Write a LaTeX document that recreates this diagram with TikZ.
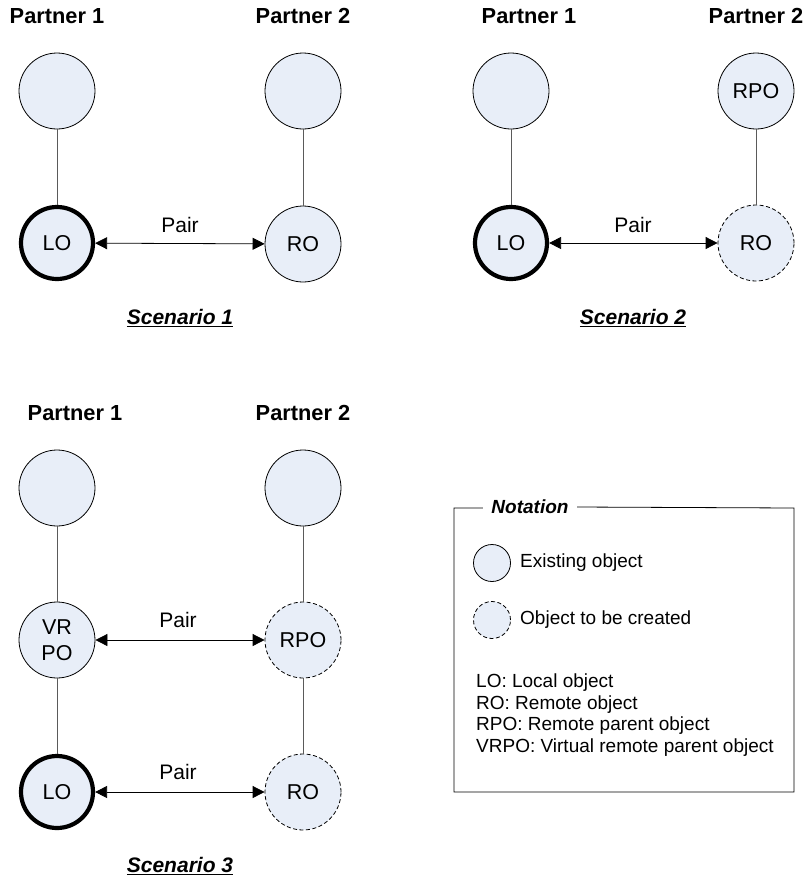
\documentclass[tikz,border=0pt]{standalone}
\usepackage{fontspec}
\setmainfont{Liberation Sans}
\usetikzlibrary{arrows.meta}
\definecolor{objfill}{RGB}{232,238,248}
\definecolor{linkgray}{RGB}{90,90,90}
\tikzset{
  x=1pt, y=-1pt,
  obj/.style={circle, draw=black, line width=0.8pt, fill=objfill,
    minimum size=76pt, inner sep=0pt, font=\fontsize{21.5}{24}\selectfont, align=center},
  localobj/.style={obj, line width=4.2pt, minimum size=72pt},
  newobj/.style={obj, dash pattern=on 4pt off 2.5pt},
  partner/.style={font=\bfseries\fontsize{21.8}{24}\selectfont},
  pairlbl/.style={font=\fontsize{21}{24}\selectfont},
  scentitle/.style={font=\bfseries\itshape\fontsize{21}{24}\selectfont},
  link/.style={draw=linkgray, line width=0.8pt},
  pairarrow/.style={draw=black, line width=0.8pt,
    {Triangle[length=12pt,width=12pt]}-{Triangle[length=12pt,width=12pt]}},
  legendobj/.style={obj, minimum size=37pt},
  legendtxt/.style={anchor=west, inner sep=0pt, font=\fontsize{19}{22}\selectfont},
}
\begin{document}
\begin{tikzpicture}
\useasboundingbox (0,0) rectangle (803,879);

% Scenario 1
\node[partner] (s1p1) at (57,16) {Partner 1};
\node[partner] (s1p2) at (303,16) {Partner 2};
\node[obj] (s1a) at (57,91) {};
\node[obj] (s1b) at (303,91) {};
\node[localobj] (s1lo) at (57,243) {LO};
\node[obj] (s1ro) at (303,244) {RO};
\draw[link] (s1a) -- (s1lo);
\draw[link] (s1b) -- (s1ro);
\draw[pairarrow] (s1lo) -- (s1ro);
\node[pairlbl] (s1pair) at (180,225) {Pair};
\node[scentitle] (s1t) at (180,318) {\underline{Scenario 1}};

% Scenario 2
\node[partner] (s2p1) at (529,16) {Partner 1};
\node[partner] (s2p2) at (756,16) {Partner 2};
\node[obj] (s2a) at (511,91) {};
\node[obj] (s2b) at (756,91) {RPO};
\node[localobj] (s2lo) at (511,243) {LO};
\node[newobj] (s2ro) at (756,243) {RO};
\draw[link] (s2a) -- (s2lo);
\draw[link] (s2b) -- (s2ro);
\draw[pairarrow] (s2lo) -- (s2ro);
\node[pairlbl] (s2pair) at (633,225) {Pair};
\node[scentitle] (s2t) at (633,318) {\underline{Scenario 2}};

% Scenario 3
\node[partner] (s3p1) at (75,413) {Partner 1};
\node[partner] (s3p2) at (303,413) {Partner 2};
\node[obj] (s3a) at (57,488) {};
\node[obj] (s3b) at (303,488) {};
\node[obj, font=\fontsize{21.5}{26}\selectfont] (s3vrpo) at (57,640) {VR\\PO};
\node[newobj] (s3rpo) at (303,640) {RPO};
\node[localobj] (s3lo) at (57,792) {LO};
\node[newobj] (s3ro) at (303,792) {RO};
\draw[link] (s3a) -- (s3vrpo);
\draw[link] (s3vrpo) -- (s3lo);
\draw[link] (s3b) -- (s3rpo);
\draw[link] (s3rpo) -- (s3ro);
\draw[pairarrow] (s3vrpo) -- (s3rpo);
\draw[pairarrow] (s3lo) -- (s3ro);
\node[pairlbl] (s3pair1) at (178,620) {Pair};
\node[pairlbl] (s3pair2) at (178,772) {Pair};
\node[scentitle] (s3t) at (180,866) {\underline{Scenario 3}};

% Notation box
\node[font=\bfseries\itshape\fontsize{19}{22}\selectfont] (nottitle) at (530,507) {Notation};
\coordinate (bxtl) at (454,508);
\coordinate (bxbr) at (794,792);
\draw[line width=0.8pt] (nottitle.east) ++(5,0) -- (bxbr |- bxtl) -- (bxbr) -- (bxtl |- bxbr) -- (bxtl) -- ([xshift=-5pt]nottitle.west |- bxtl);
\node[legendobj] (lgold) at (492,563) {};
\node[legendobj, dash pattern=on 4pt off 2.5pt] (lgnew) at (492,620) {};
\node[legendtxt] (lgoldt) at (520,563) {Existing object};
\node[legendtxt] (lgnewt) at (520,620) {Object to be created};
\node[legendtxt, align=left, font=\fontsize{19}{21.8}\selectfont] (lgabbr) at (476,715)
  {LO: Local object\\RO: Remote object\\RPO: Remote parent object\\VRPO: Virtual remote parent object};
\end{tikzpicture}
\end{document}
